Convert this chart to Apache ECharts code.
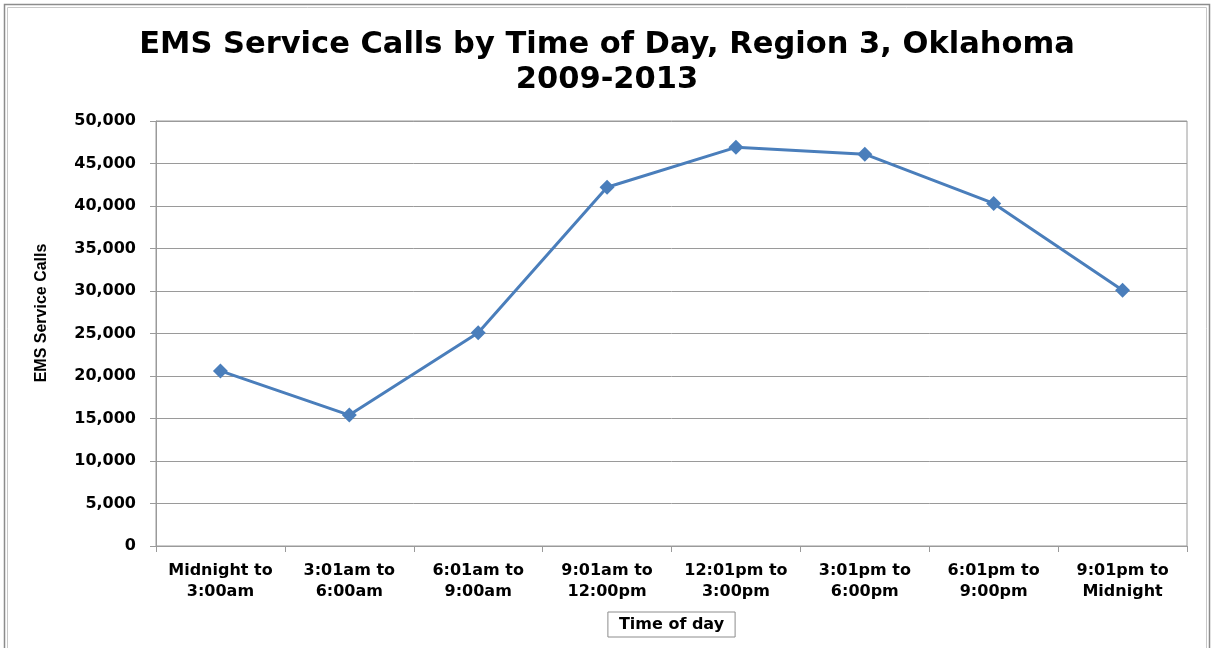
<!DOCTYPE html>
<html>
<head>
<meta charset="utf-8">
<script src="https://cdn.jsdelivr.net/npm/echarts@6/dist/echarts.min.js"></script>
<style>html,body{margin:0;padding:0;background:#fff}#c{width:1214px;height:648px}</style>
</head>
<body>
<div id="c"></div>
<script>
const categories = ['Midnight to\n3:00am','3:01am to\n6:00am','6:01am to\n9:00am','9:01am to\n12:00pm','12:01pm to\n3:00pm','3:01pm to\n6:00pm','6:01pm to\n9:00pm','9:01pm to\nMidnight'];
const calls = [20600, 15400, 25100, 42200, 46900, 46100, 40300, 30100];
const titleLines = ['EMS Service Calls by Time of Day, Region 3, Oklahoma', '2009-2013'];
const yAxisTitle = 'EMS Service Calls';
const xAxisTitle = 'Time of day';

const chart = echarts.init(document.getElementById('c'), null, {renderer:'canvas'});
const font = '"DejaVu Sans", Arial, sans-serif';
chart.setOption({
  animation: false,
  backgroundColor: '#fff',
  title: {
    text: titleLines.join('\n'),
    left: 'center', top: 23,
    textStyle: {fontFamily: font, fontWeight: 'bold', fontSize: 30.5, lineHeight: 35, color: '#000'}
  },
  graphic: [
    {type:'rect', shape:{x:4.5,y:4.5,width:1205,height:660}, style:{fill:null, stroke:'#8c8c8c', lineWidth:1.5}},
    {type:'rect', shape:{x:7.5,y:7.5,width:1199,height:660}, style:{fill:null, stroke:'#c8c8c8', lineWidth:1}},
    {type:'text', x:42, y:313, rotation: Math.PI/2, style:{text: yAxisTitle, fill:'#000', font:'bold 16px "Liberation Sans Narrow", "Liberation Sans", Arial, sans-serif', textAlign:'center', textVerticalAlign:'middle'}}
  ],
  grid: {left:156, right:27, top:121, bottom:102, show:true, borderColor:'#9a9a9a', borderWidth:1},
  xAxis: {
    type:'category', data: categories, boundaryGap:true,
    name: xAxisTitle, nameLocation:'middle', nameGap:66,
    nameTextStyle:{fontFamily:font, fontWeight:'bold', fontSize:16, color:'#000', borderColor:'#8c8c8c', borderWidth:1, padding:[5,11,4,11]},
    axisLine:{lineStyle:{color:'#9a9a9a', width:1}},
    axisTick:{show:true, length:6, lineStyle:{color:'#9a9a9a'}},
    axisLabel:{fontFamily:font, fontWeight:'bold', fontSize:16, color:'#000', lineHeight:21, margin:14, interval:0}
  },
  yAxis: {
    type:'value', min:0, max:50000, interval:5000,
    axisLine:{show:true, lineStyle:{color:'#9a9a9a', width:1}},
    axisTick:{show:true, length:6, lineStyle:{color:'#9a9a9a'}},
    splitLine:{lineStyle:{color:'#9a9a9a', width:1}},
    axisLabel:{fontFamily:font, fontWeight:'bold', fontSize:16, color:'#000', margin:20,
      formatter: v => v.toLocaleString('en-US')}
  },
  series: [{
    type:'line', data: calls,
    symbol:'diamond', symbolSize:15,
    lineStyle:{color:'#4a7ebb', width:3},
    itemStyle:{color:'#4a7ebb'}
  }]
});
</script>
</body>
</html>
